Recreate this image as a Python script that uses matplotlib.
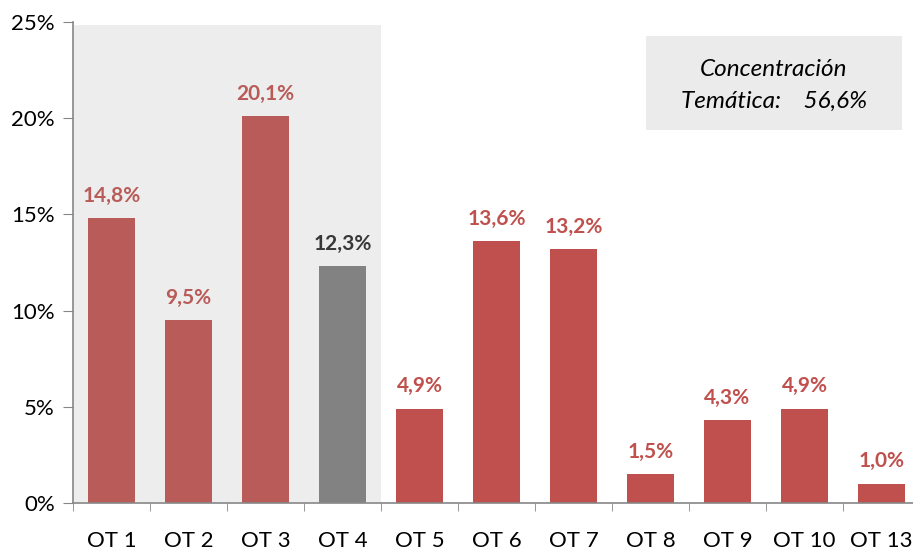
import matplotlib
matplotlib.use("Agg")
from matplotlib import pyplot as plt
from matplotlib.patches import Rectangle
import numpy as np

plt.rcParams['font.family'] = ['Lato', 'DejaVu Sans']

categories = ["OT 1", "OT 2", "OT 3", "OT 4", "OT 5", "OT 6", "OT 7", "OT 8", "OT 9", "OT 10", "OT 13"]
values = [14.8, 9.5, 20.1, 12.3, 4.9, 13.6, 13.2, 1.5, 4.3, 4.9, 1.0]
labels = ["14,8%", "9,5%", "20,1%", "12,3%", "4,9%", "13,6%", "13,2%", "1,5%", "4,3%", "4,9%", "1,0%"]
box_lines = ["Concentración", "Temática:    56,6%"]

red = "#C0504D"
grey = "#7F7F7F"
colors = [grey if c == "OT 4" else red for c in categories]
label_colors = ["#262626" if c == "OT 4" else red for c in categories]

fig = plt.figure(figsize=(9.13, 5.51), dpi=100)
# axes run a little past the right edge, like the cropped original
ax = fig.add_axes([73 / 913, 48 / 551, 847 / 913, 481 / 551])

x = np.arange(len(categories))
ax.bar(x, values, width=0.6, color=colors, zorder=2)

for xi, v, lab, lc in zip(x, values, labels, label_colors):
    ax.text(xi, v + 0.65, lab, ha="center", va="bottom", fontsize=15,
            fontweight="bold", color=lc, zorder=3)

# translucent grey panel over the first four themes
ax.add_patch(Rectangle((-0.5, 0), 4.0, 24.85, facecolor="#969696",
                       alpha=0.17, edgecolor="none", zorder=4))

ax.set_xlim(-0.5, 10.5)
ax.set_ylim(0, 25)
ax.set_yticks(np.arange(0, 26, 5))
ax.set_yticklabels([f"{t}%" for t in range(0, 26, 5)], fontsize=16)
ax.set_xticks(x)
ax.set_xticklabels(categories, fontsize=16)
ax.set_xticks(np.arange(-0.5, 10.6, 1), minor=True)
ax.tick_params(axis="x", which="major", length=0, pad=20)
ax.tick_params(axis="x", which="minor", length=6, color="#868686", direction="out")
ax.tick_params(axis="y", length=7, color="#868686", direction="out", pad=6)

for s in ["top", "right"]:
    ax.spines[s].set_visible(False)
for s in ["left", "bottom"]:
    ax.spines[s].set_color("#868686")
    ax.spines[s].set_linewidth(1.2)

# summary box
fig.patches.append(Rectangle((646 / 913, 1 - 130 / 551), 256 / 913, 94 / 551,
                             transform=fig.transFigure, facecolor="#EBEBEB",
                             edgecolor="none", zorder=5))
fig.text(774 / 913, 1 - 70 / 551, box_lines[0], ha="center", va="center",
         fontsize=17.5, style="italic", color="black", zorder=6)
fig.text(774 / 913, 1 - 101 / 551, box_lines[1], ha="center", va="center",
         fontsize=17.5, style="italic", color="black", zorder=6)

fig.savefig("out.png", dpi=100)
